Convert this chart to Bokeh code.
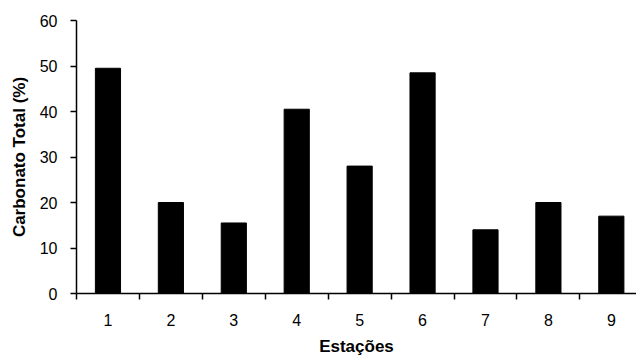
from bokeh.plotting import figure
from bokeh.models import FixedTicker, Range1d, ColumnDataSource
from bokeh.embed import file_html
from bokeh.resources import INLINE

# Data
estacoes = ["1", "2", "3", "4", "5", "6", "7", "8", "9"]
carbonato = [49.5, 20.0, 15.5, 40.5, 28.0, 48.5, 14.0, 20.0, 17.0]
y_ticks = [0, 10, 20, 30, 40, 50, 60]

xs = list(range(1, len(estacoes) + 1))
src = ColumnDataSource(dict(x=xs, top=carbonato, label=estacoes))

p = figure(width=636, height=358, output_backend="svg", toolbar_location=None,
           x_range=Range1d(0.5, 9.4), y_range=Range1d(0, 60),
           min_border_left=76, min_border_top=20, min_border_bottom=65, min_border_right=0)

p.vbar(x="x", top="top", width=0.4, bottom=0, source=src,
       fill_color="black", line_color="black", line_width=1)

p.grid.visible = False
p.outline_line_color = None

font = "Liberation Sans"

# x axis: labels at category centres, ticks between categories
xa = p.xaxis[0]
xa.ticker = FixedTicker(ticks=xs, minor_ticks=[i + 0.5 for i in range(0, len(estacoes) + 1)])
xa.major_label_overrides = {x: lab for x, lab in zip(xs, estacoes)}
xa.major_tick_in = 0
xa.major_tick_out = 0
xa.minor_tick_in = 0
xa.minor_tick_out = 6
xa.minor_tick_line_color = "black"
xa.minor_tick_line_width = 1.5
xa.axis_line_color = "black"
xa.axis_line_width = 1.5
xa.major_label_text_font = font
xa.major_label_text_font_size = "16px"
xa.major_label_text_color = "black"
xa.major_label_standoff = 14
xa.axis_label = "Estações"
xa.axis_label_text_font = font
xa.axis_label_text_font_style = "bold"
xa.axis_label_text_font_size = "17px"
xa.axis_label_text_color = "black"
xa.axis_label_standoff = 8

# y axis
ya = p.yaxis[0]
ya.ticker = FixedTicker(ticks=y_ticks)
ya.major_tick_in = 0
ya.major_tick_out = 6
ya.minor_tick_in = 0
ya.minor_tick_out = 0
ya.major_tick_line_color = "black"
ya.major_tick_line_width = 1.5
ya.axis_line_color = "black"
ya.axis_line_width = 1.5
ya.major_label_text_font = font
ya.major_label_text_font_size = "16px"
ya.major_label_text_color = "black"
ya.major_label_standoff = 13
ya.axis_label = "Carbonato Total (%)"
ya.axis_label_text_font = font
ya.axis_label_text_font_style = "bold"
ya.axis_label_text_font_size = "17px"
ya.axis_label_text_color = "black"
ya.axis_label_standoff = 8

open("out.html", "w").write(file_html(p, INLINE))
